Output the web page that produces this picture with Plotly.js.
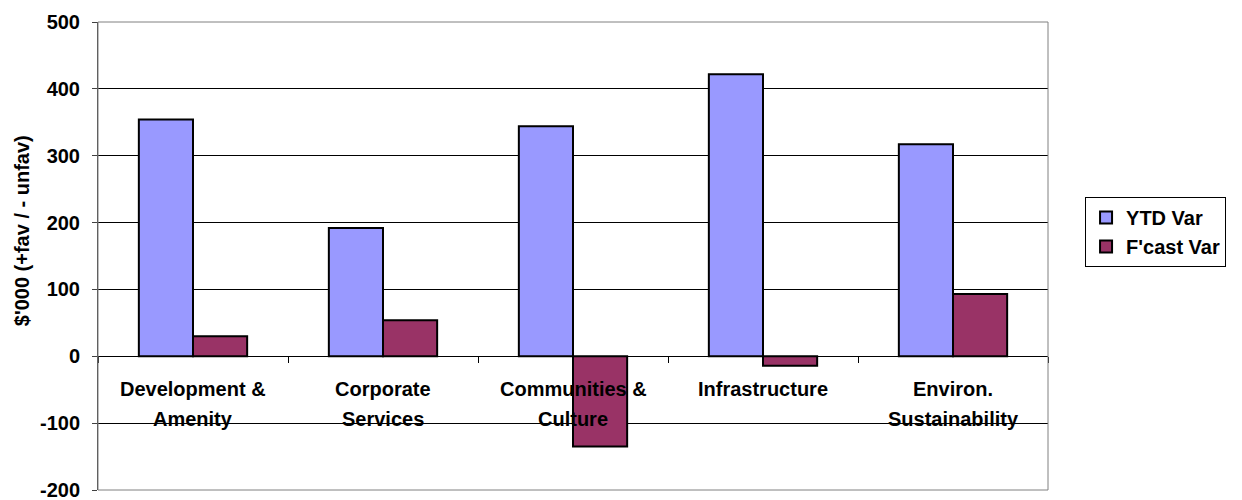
<!DOCTYPE html>
<html>
<head>
<meta charset="utf-8">
<script src="https://cdn.plot.ly/plotly-3.0.1.min.js"></script>
<style>html,body{margin:0;padding:0;background:#fff;}#chart{width:1242px;height:500px;}</style>
</head>
<body>
<div id="chart"></div>
<script>
var categories = ["Development & Amenity", "Corporate Services", "Communities & Culture", "Infrastructure", "Environ. Sustainability"];
var labelLine1 = ["Development &", "Corporate", "Communities &", "Infrastructure", "Environ."];
var labelLine2 = ["Amenity", "Services", "Culture", "", "Sustainability"];
var ytdVar = [354, 192, 344, 422, 317];
var fcastVar = [30, 54, -135, -14, 93];
var yTicks = [-200, -100, 0, 100, 200, 300, 400, 500];

var FONT = "Liberation Sans, Arial, sans-serif";
var FS = 20;
var yMin = -200, yMax = 500;

var traces = [
  {type: "bar", name: "<b>YTD Var</b>", x: categories, y: ytdVar,
   marker: {color: "#9999FF", line: {color: "#000000", width: 2}}},
  {type: "bar", name: "<b>F'cast Var</b>", x: categories, y: fcastVar,
   marker: {color: "#993366", line: {color: "#000000", width: 2}}}
];

var annotations = [];
categories.forEach(function (c, i) {
  annotations.push({x: c, y: 0, xref: "x", yref: "y", text: "<b>" + labelLine1[i] + "</b>",
    showarrow: false, yanchor: "middle", yshift: -33, font: {family: FONT, size: FS, color: "#000"}});
  if (labelLine2[i]) {
    annotations.push({x: c, y: 0, xref: "x", yref: "y", text: "<b>" + labelLine2[i] + "</b>",
      showarrow: false, yanchor: "middle", yshift: -63, font: {family: FONT, size: FS, color: "#000"}});
  }
});
annotations.push({xref: "paper", yref: "paper", x: -0.08, y: 0.553, xanchor: "center", yanchor: "middle",
  text: "<b>$'000 (+fav / - unfav)</b>", textangle: -90, showarrow: false,
  font: {family: FONT, size: FS, color: "#000"}});

var layout = {
  width: 1242, height: 500,
  margin: {l: 98, r: 194, t: 22, b: 10},
  paper_bgcolor: "#ffffff", plot_bgcolor: "#ffffff",
  barmode: "group", bargap: 0.43, bargroupgap: 0,
  font: {family: FONT, size: FS, color: "#000"},
  showlegend: true,
  legend: {x: 1.039, y: 0.626, xanchor: "left", yanchor: "top",
    bgcolor: "#ffffff", bordercolor: "#000000", borderwidth: 1,
    font: {family: FONT, size: FS, color: "#000"},
    itemsizing: "constant", tracegroupgap: 4},
  xaxis: {
    anchor: "free", position: (0 - yMin) / (yMax - yMin),
    showline: true, linecolor: "#000000", linewidth: 1,
    ticks: "outside", tickson: "boundaries", ticklen: 6, tickcolor: "#000",
    showticklabels: false, showgrid: false, zeroline: false, fixedrange: true
  },
  yaxis: {
    range: [yMin, yMax], tickvals: yTicks, ticktext: yTicks.map(function (v) { return "<b>" + v + "</b>"; }),
    showline: true, linecolor: "#404040", linewidth: 1,
    ticks: "outside", ticklen: 5, tickcolor: "#404040", ticklabelstandoff: 8,
    ticklabeloverflow: "allow",
    showgrid: true, gridcolor: "#000000", gridwidth: 1, zeroline: false,
    tickfont: {family: FONT, size: FS, color: "#000"}
  },
  shapes: [{type: "rect", xref: "paper", yref: "paper", x0: 0, x1: 1, y0: 0, y1: 1,
    line: {color: "#808080", width: 1}, fillcolor: "rgba(0,0,0,0)", layer: "above"}],
  annotations: annotations
};

Plotly.newPlot("chart", traces, layout, {displayModeBar: false, staticPlot: true});
</script>
</body>
</html>
